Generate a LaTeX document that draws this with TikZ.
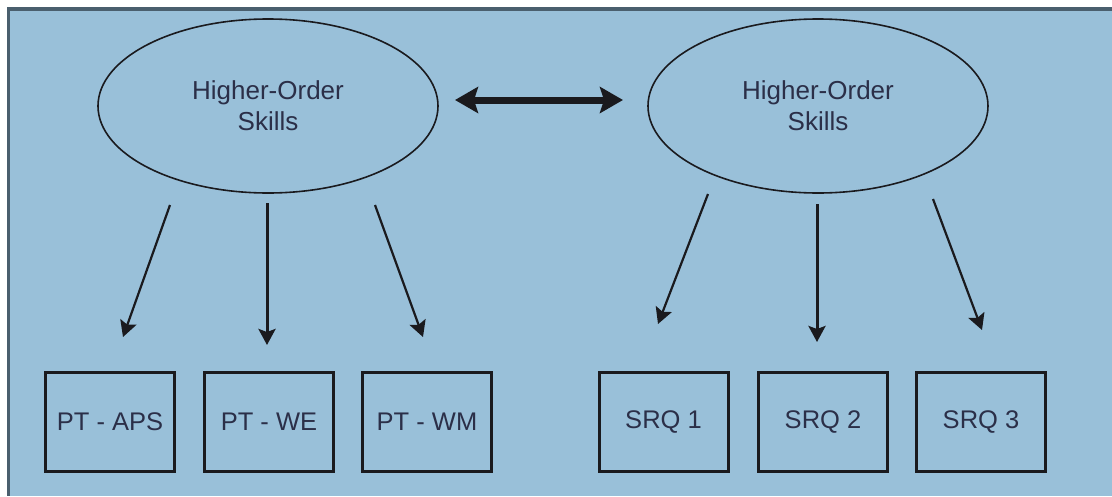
\documentclass[tikz,border=0pt]{standalone}
\usepackage{fontspec}
\setmainfont{Liberation Sans}
\usetikzlibrary{arrows.meta,shapes.geometric}
\definecolor{bgblue}{HTML}{99C0D9}
\definecolor{framecol}{HTML}{4A5F6E}
\definecolor{inkcol}{HTML}{1A1A1E}
\definecolor{txtcol}{HTML}{2B2F48}
\begin{document}
\begin{tikzpicture}[x=1pt,y=-1pt,
  skill/.style={ellipse, draw=inkcol, line width=1.6pt, minimum width=340pt, minimum height=174pt, inner sep=0pt, text=txtcol, align=center, font=\fontsize{26}{31}\selectfont},
  testbox/.style={rectangle, draw=inkcol, line width=3pt, minimum width=129pt, minimum height=99pt, inner sep=0pt, text=txtcol, font=\fontsize{25.5}{31}\selectfont},
  slant/.style={draw=inkcol, line width=2.2pt, -{Stealth[length=16pt,width=17pt,inset=3pt]}},
  straight/.style={draw=inkcol, line width=3pt, -{Stealth[length=16pt,width=17pt,inset=3pt]}},
  link/.style={draw=inkcol, line width=7pt, {Stealth[length=23pt,width=26pt,inset=4pt]}-{Stealth[length=23pt,width=26pt,inset=4pt]}}]
\useasboundingbox (0,0) rectangle (1112,496);
\fill[white] (0,0) rectangle (1112,496);
\fill[bgblue] (7,7) rectangle (1112,496);
\fill[framecol] (7,7) rectangle (1112,11);
\fill[framecol] (7,7) rectangle (9.5,496);

\node[skill] (hosL) at (268,106) {Higher-Order\\Skills};
\node[skill] (hosR) at (818,106) {Higher-Order\\Skills};

\node[testbox] (aps) at (110,422) {PT - APS};
\node[testbox] (we) at (269,422) {PT - WE};
\node[testbox] (wm) at (427,422) {PT - WM};
\node[testbox] (srq1) at (663.5,422) {SRQ 1};
\node[testbox] (srq2) at (823,422) {SRQ 2};
\node[testbox] (srq3) at (981,422) {SRQ 3};

\coordinate (l1s) at (170,205); \coordinate (l1e) at (123,337);
\coordinate (l2s) at (267,203); \coordinate (l2e) at (267,345);
\coordinate (l3s) at (375,205); \coordinate (l3e) at (423,337);
\coordinate (r1s) at (708,194); \coordinate (r1e) at (658,324);
\coordinate (r2s) at (817,204); \coordinate (r2e) at (817,342);
\coordinate (r3s) at (933,199); \coordinate (r3e) at (982,330);
\coordinate (dl) at (455,100); \coordinate (dr) at (623,100);

\draw[slant] (l1s) -- (l1e);
\draw[straight] (l2s) -- (l2e);
\draw[slant] (l3s) -- (l3e);
\draw[slant] (r1s) -- (r1e);
\draw[straight] (r2s) -- (r2e);
\draw[slant] (r3s) -- (r3e);
\draw[link] (dl) -- (dr);
\end{tikzpicture}
\end{document}
